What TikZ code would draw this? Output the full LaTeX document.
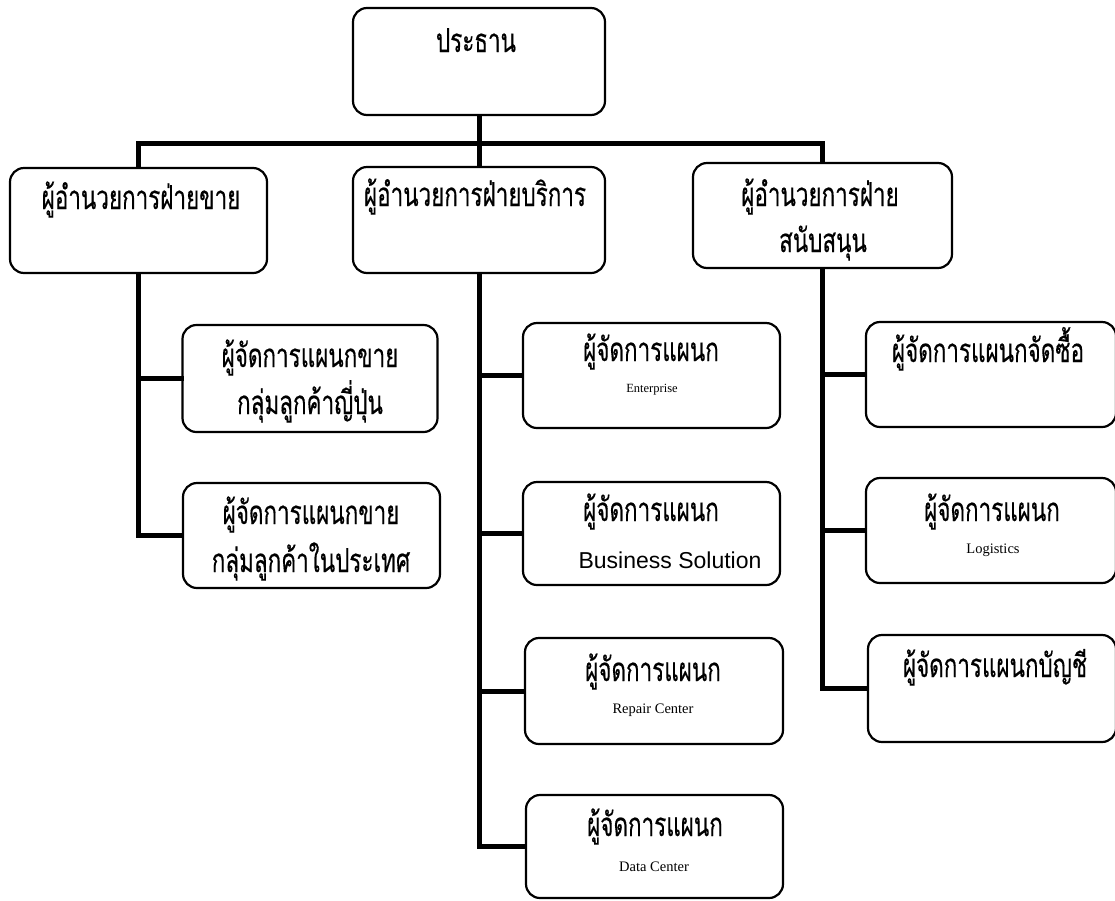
\documentclass[tikz,border=0pt]{standalone}
\usepackage{fontspec}
\newfontfamily\thai[Script=Thai, FakeStretch=0.68, FakeBold=0.4]{Loma}
\setmainfont{Liberation Serif}
\newfontfamily\arialf{Liberation Sans}
\begin{document}
\begin{tikzpicture}[x=1pt,y=-1pt,
  box/.style={draw=black, line width=2.2pt, rounded corners=14pt, fill=white, inner sep=0pt},
  th/.style={font=\thai\fontsize{33}{36}\selectfont, inner sep=0pt, anchor=base},
  en/.style={font=\fontsize{14.5}{16}\selectfont, inner sep=0pt, anchor=center},
  conn/.style={line width=5pt, line join=miter, line cap=rect}]
\useasboundingbox (0,0) rectangle (1115,900);
\fill[white] (0,0) rectangle (1115,900);
% boxes (centres in px, y down)
\node[box, minimum width=252pt, minimum height=107pt] (P) at (479,61.5) {};
\node[box, minimum width=257pt, minimum height=105pt] (A) at (138.5,220.5) {};
\node[box, minimum width=252pt, minimum height=106pt] (B) at (479,220) {};
\node[box, minimum width=259pt, minimum height=105pt] (C) at (822.5,215.5) {};
\node[box, minimum width=255pt, minimum height=107pt] (A1) at (310,378.5) {};
\node[box, minimum width=257pt, minimum height=105pt] (A2) at (311.5,535.5) {};
\node[box, minimum width=257pt, minimum height=105pt] (B1) at (651.5,375.5) {};
\node[box, minimum width=257pt, minimum height=103pt] (B2) at (651.5,533.5) {};
\node[box, minimum width=258pt, minimum height=106pt] (B3) at (654,691) {};
\node[box, minimum width=257pt, minimum height=103pt] (B4) at (654.5,846.5) {};
\node[box, minimum width=250pt, minimum height=105pt] (C1) at (991,374.5) {};
\node[box, minimum width=250pt, minimum height=105pt] (C2) at (991,530.5) {};
\node[box, minimum width=248pt, minimum height=107pt] (C3) at (992,688.5) {};
% texts
\node[th] (tP) at (476,52) {ประธาน};
\node[th] (tA) at (141,209) {ผู้อำนวยการฝ่ายขาย};
\node[th] (tB) at (475,206) {ผู้อำนวยการฝ่ายบริการ};
\node[th] (tC1) at (820,206) {ผู้อำนวยการฝ่าย};
\node[th] (tC2) at (823,252) {สนับสนุน};
\node[th] (tA1a) at (310,367) {ผู้จัดการแผนกขาย};
\node[th] (tA1b) at (310,414) {กลุ่มลูกค้าญี่ปุ่น};
\node[th] (tA2a) at (311,524) {ผู้จัดการแผนกขาย};
\node[th] (tA2b) at (311,572) {กลุ่มลูกค้าในประเทศ};
\node[th] (tB1) at (651,361) {ผู้จัดการแผนก};
\node[en, font=\fontsize{12.5}{14}\selectfont] (eB1) at (652,390) {Enterprise};
\node[th] (tB2) at (651,521) {ผู้จัดการแผนก};
\node[en, font=\arialf\fontsize{23}{26}\selectfont] (eB2) at (670,560) {Business Solution};
\node[th] (tB3) at (653,681) {ผู้จัดการแผนก};
\node[en] (eB3) at (653,710) {Repair Center};
\node[th] (tB4) at (655,836) {ผู้จัดการแผนก};
\node[en] (eB4) at (654,867) {Data Center};
\node[th] (tC1t) at (988,362) {ผู้จัดการแผนกจัดซื้อ};
\node[th] (tC2t) at (992,521) {ผู้จัดการแผนก};
\node[en] (eC2) at (993,550) {Logistics};
\node[th] (tC3t) at (995,677) {ผู้จัดการแผนกบัญชี};
% connectors
\coordinate (bus) at (479,143);
\draw[conn] (A.north) -- (A.north |- bus) -- (C.north |- bus) -- (C.north);
\draw[conn] (P.south) -- (B.north);
\draw[conn] (A.south) |- (A2.west);
\draw[conn] (A.south |- A1.west) -- (A1.west);
\draw[conn] (B.south) |- (B4.west);
\draw[conn] (B.south |- B1.west) -- (B1.west);
\draw[conn] (B.south |- B2.west) -- (B2.west);
\draw[conn] (B.south |- B3.west) -- (B3.west);
\draw[conn] (C.south) |- (C3.west);
\draw[conn] (C.south |- C1.west) -- (C1.west);
\draw[conn] (C.south |- C2.west) -- (C2.west);
\end{tikzpicture}
\end{document}
